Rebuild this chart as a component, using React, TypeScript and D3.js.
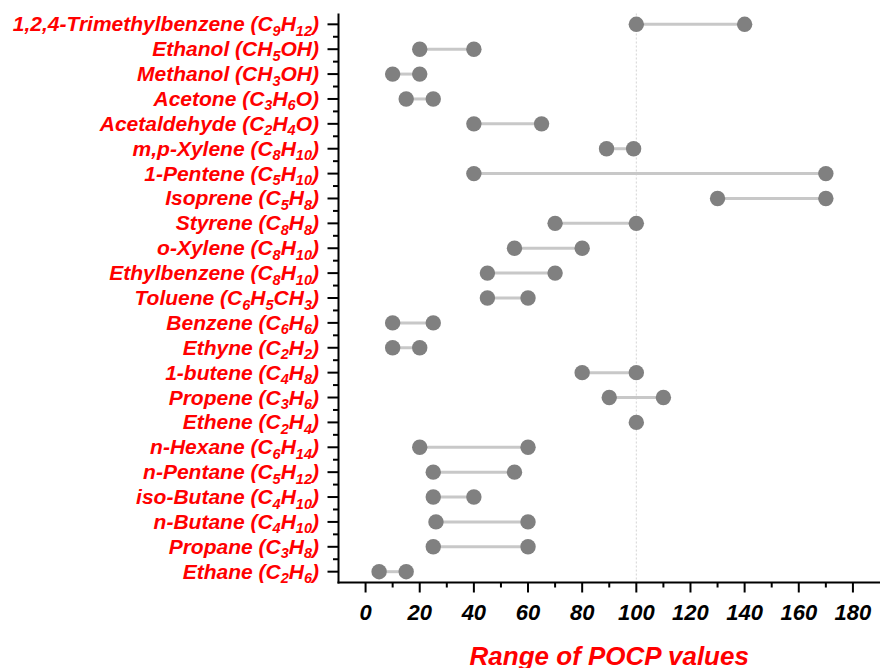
import React from "react";
import * as d3 from "d3";

const compounds = [
  "1,2,4-Trimethylbenzene", "Ethanol", "Methanol", "Acetone", "Acetaldehyde",
  "m,p-Xylene", "1-Pentene", "Isoprene", "Styrene", "o-Xylene", "Ethylbenzene",
  "Toluene", "Benzene", "Ethyne", "1-butene", "Propene", "Ethene", "n-Hexane",
  "n-Pentane", "iso-Butane", "n-Butane", "Propane", "Ethane",
];
const formulas = [
  "C9H12", "CH5OH", "CH3OH", "C3H6O", "C2H4O", "C8H10", "C5H10", "C5H8", "C8H8",
  "C8H10", "C8H10", "C6H5CH3", "C6H6", "C2H2", "C4H8", "C3H6", "C2H4", "C6H14",
  "C5H12", "C4H10", "C4H10", "C3H8", "C2H6",
];
const minValues = [100, 20, 10, 15, 40, 89, 40, 130, 70, 55, 45, 45, 10, 10, 80, 90, 100, 20, 25, 25, 26, 25, 5];
const maxValues = [140, 40, 20, 25, 65, 99, 170, 170, 100, 80, 70, 60, 25, 20, 100, 110, 100, 60, 55, 40, 60, 60, 15];
const xTickValues = [0, 20, 40, 60, 80, 100, 120, 140, 160, 180];
const xMinorValues = [10, 30, 50, 70, 90, 110, 130, 150, 170];
const referenceValue = 100;
const xTitle = "Range of POCP values";

const W = 880, H = 668;
const plotLeft = 338.5, plotRight = 880, plotTop = 13.5, plotBottom = 582.5;
const FONT = "'Liberation Sans', Arial, sans-serif";

function splitFormula(f: string) {
  const parts: { t: string; sub: boolean }[] = [];
  const re = /(\d+|\D+)/g;
  let m;
  while ((m = re.exec(f))) parts.push({ t: m[0], sub: /\d/.test(m[0]) });
  return parts;
}

export default function App() {
  const x = d3.scaleLinear().domain([-10, 190]).range([plotLeft, plotRight]);
  const y = d3.scalePoint<string>().domain(compounds).range([plotTop, plotBottom]).padding(0.435);
  const yPos = compounds.map((c) => y(c) as number);
  const yMinor = yPos.slice(0, -1).map((v, i) => (v + yPos[i + 1]) / 2);
  const SUB = 4.5;

  return (
    <svg width={W} height={H} style={{ position: "absolute", left: 0, top: 0, background: "#fff" }}>
      <line x1={x(referenceValue)} x2={x(referenceValue)} y1={plotTop} y2={plotBottom}
        stroke="#d4d4d4" strokeWidth={1} strokeDasharray="2,2" />
      {compounds.map((c, i) => (
        <line key={"s" + i} x1={x(minValues[i])} x2={x(maxValues[i])} y1={yPos[i]} y2={yPos[i]}
          stroke="#c8c8c8" strokeWidth={3} />
      ))}
      {compounds.map((c, i) => (
        <g key={"d" + i}>
          <circle cx={x(minValues[i])} cy={yPos[i]} r={7.7} fill="#808080" />
          {maxValues[i] !== minValues[i] && (
            <circle cx={x(maxValues[i])} cy={yPos[i]} r={7.7} fill="#808080" />
          )}
        </g>
      ))}
      <line x1={plotLeft} x2={plotLeft} y1={plotTop} y2={plotBottom + 1} stroke="#000" strokeWidth={2} />
      <line x1={plotLeft - 1} x2={plotRight} y1={plotBottom} y2={plotBottom} stroke="#000" strokeWidth={2} />
      {yPos.map((v, i) => (
        <line key={"yt" + i} x1={plotLeft - 11} x2={plotLeft} y1={v} y2={v} stroke="#000" strokeWidth={2} />
      ))}
      {yMinor.map((v, i) => (
        <line key={"ym" + i} x1={plotLeft - 5.5} x2={plotLeft} y1={v} y2={v} stroke="#000" strokeWidth={2} />
      ))}
      {xTickValues.map((v) => (
        <line key={"xt" + v} x1={x(v)} x2={x(v)} y1={plotBottom} y2={plotBottom + 10} stroke="#000" strokeWidth={2} />
      ))}
      {xMinorValues.map((v) => (
        <line key={"xm" + v} x1={x(v)} x2={x(v)} y1={plotBottom} y2={plotBottom + 5} stroke="#000" strokeWidth={2} />
      ))}
      {xTickValues.map((v) => (
        <text key={"xl" + v} x={x(v)} y={620} textAnchor="middle" fontFamily={FONT}
          fontWeight="bold" fontStyle="italic" fontSize={22} fill="#000">{v}</text>
      ))}
      {compounds.map((c, i) => {
        const parts = splitFormula(formulas[i]);
        return (
          <text key={"yl" + i} x={319} y={yPos[i] + 7} textAnchor="end" fontFamily={FONT}
            fontWeight="bold" fontStyle="italic" fontSize={21} fill="#ff0000">
            <tspan>{c + " ("}</tspan>
            {parts.map((p, k) =>
              p.sub ? (
                <tspan key={k} fontSize={14.5} dy={SUB}>{p.t}</tspan>
              ) : (
                <tspan key={k} dy={k > 0 ? -SUB : 0}>{p.t}</tspan>
              )
            )}
            <tspan dy={parts[parts.length - 1].sub ? -SUB : 0}>)</tspan>
          </text>
        );
      })}
      <text x={(plotLeft + plotRight) / 2} y={665} textAnchor="middle" fontFamily={FONT}
        fontWeight="bold" fontStyle="italic" fontSize={26} fill="#ff0000">{xTitle}</text>
    </svg>
  );
}
